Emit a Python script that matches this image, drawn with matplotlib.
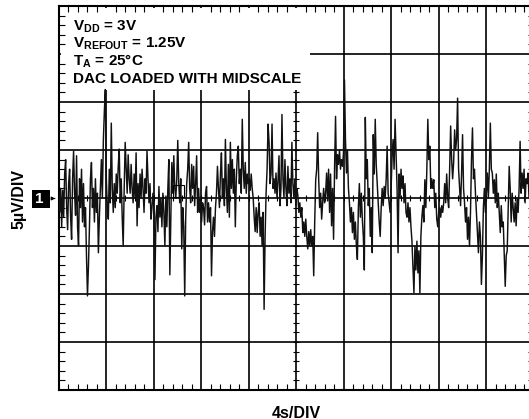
import numpy as np
import matplotlib
matplotlib.use("Agg")
import matplotlib.pyplot as plt
from matplotlib.patches import Rectangle, FancyArrowPatch

plt.rcParams['font.family'] = ['Liberation Sans', 'DejaVu Sans']
plt.rcParams['mathtext.fontset'] = 'custom'
plt.rcParams['mathtext.rm'] = 'Liberation Sans:bold'
plt.rcParams['mathtext.bf'] = 'Liberation Sans:bold'

# ---- data (µV), 5 µV/div, 4 s/div ----
seg1 = [0.5, -1.5, 1.0, -3.0, 0.8, -2.0, 2.5, 4.0, -1.0, -3.3,
        1.5, 3.0, -2.0, -4.3, 2.0, 4.9, 0.5, -1.8, 4.4, -3.0,
        -5.0, 2.0, -1.0, 3.0, -2.5, 1.5, -3.0, -1.0, -6.0, -10.2,
        -7.0, -3.0, 2.0, 3.7, -1.0, 1.0, -2.5, 2.0, -1.5, 0.5,
        -5.7, -2.0, 1.0, 4.0, 0.0, 6.0, 9.0, 11.3, 2.0, -1.0,
        -2.2, 3.0, -0.5, 7.8, 1.0, -1.5, 1.5, -1.0, 2.5, 0.5,
        3.3, 5.1, -0.5, 2.0, -2.0, -5.0, 1.0, 5.8, 3.0, 0.5,
        4.5, 2.0, 0.5, 3.5, 1.0, -0.5, 2.5, 0.0, 4.7, -2.9,
        1.5, -1.0, 2.5, 0.0, 3.0, 1.0, -1.5, 2.0, 0.5, 4.9,
        2.0, -0.5, 1.5, -2.2, -1.0, 0.5]
seg2 = [-1.0, -8.5, -2.0, -0.8, -3.5, 1.2, -2.0, 0.0, -3.0, 0.5,
        -1.5, -5.0, 0.2, -3.0, 1.0, 4.0, -8.0, -2.0, 3.7, 0.5,
        4.4, 1.0, 0.0, 2.0, 6.0, 1.5, -0.5, 2.0, -5.3, -1.0,
        -3.0, -10.2, -2.0, 1.5, 3.0, 5.8, 1.0, -0.5, 3.5, 1.0,
        3.3, -0.8, 1.5, 4.4, -1.5, 1.0, -1.5, 0.0, -2.5, -0.5,
        -1.0, -2.8, 0.5, 1.2, -2.5, -0.5, -2.5, -1.0, -8.1, -3.5,
        -2.0, -4.0, -1.0, 0.5, 3.3, 1.0, -1.0, 2.5, 4.7, 0.0,
        2.0, -0.8, 6.1, 1.0, -1.5, 3.5, -2.0, 5.8, 1.0, 4.0,
        0.5, 3.0, -3.0, 2.0, 4.4, 5.4, 1.5, 3.0, 0.5, 8.2,
        3.0, 1.0, 3.7, 0.5, 2.5, 1.5]
seg3 = [2.0, 0.8, 2.5, 1.0, 0.0, -2.0, -3.5, -1.0, -3.6, -1.5,
        -0.5, -4.0, -2.0, -5.0, -1.5, -11.6, -4.0, 0.5, 3.0, 7.7,
        5.8, 1.5, 2.5, 7.7, 1.0, 2.0, 0.5, 2.6, 0.0, 1.8,
        4.4, -0.8, 1.0, 8.7, 2.0, 0.0, 4.0, 1.0, -0.8, 3.3,
        0.5, 2.0, -0.5, 5.8, 1.5, 0.0, 2.0, -0.8, 1.0, 0.3,
        -1.5, -0.5, -2.0, -1.0, -3.6, -2.5, -4.0, -2.2, -4.0, -5.3,
        -3.5, -5.0, -3.3, -5.0, -4.0, -8.1, -2.5, 1.9, 3.0, 6.8,
        2.0, -1.0, 0.5, -2.2, -0.5, 1.0, -0.5, 0.5, 2.6, -0.3,
        3.0, -1.5, 2.5, -2.9, 1.0, -4.3, 3.0, 8.5, 2.0, 4.5,
        3.5, 5.0, 3.0, 4.0, 3.3, 4.7]
seg4 = [12.3, 6.1, 2.6, 5.0, 1.0, -0.5, -2.5, -1.0, -3.6, -1.5,
        -4.3, -2.5, -5.0, -6.4, -1.0, 1.5, -2.0, 0.5, -2.2, -4.0,
        -7.5, 8.4, 2.0, 4.0, -0.8, 1.0, -4.0, -1.0, -5.7, 6.6,
        2.5, 8.2, 3.5, 1.5, -0.5, -2.5, -4.0, -1.0, 1.0, -0.8,
        1.2, 0.0, 1.9, 5.4, 0.5, -0.5, -1.5, 1.0, 4.4, 6.1,
        3.0, 8.2, 4.7, 1.0, -5.7, 2.5, 0.0, 3.0, 1.0, 2.3,
        -0.5, 1.5, -1.5, -2.0, -0.5, -2.5, -1.0, -3.0, -4.5, -7.1,
        -9.9, -5.0, -7.5, -4.5, -7.8, -5.5, -9.9, -4.0, -2.0, -0.8,
        -2.5, 1.9, -1.0, 3.0, 8.2, 4.0, 5.4, 1.0, 2.0, 1.0,
        1.9, -1.0, 0.5, -2.2, -3.0, -1.5]
seg5 = [-1.0, -2.0, -0.8, -1.5, -0.5, 1.5, -0.5, 2.5, 0.0, -1.0,
        3.0, 7.5, 4.0, 2.0, 3.7, 7.1, 5.0, 6.1, 10.4, 3.0,
        1.0, -0.8, 2.5, 6.6, 1.0, -0.5, -2.5, -1.0, -4.3, -2.0,
        -5.0, -1.5, 4.0, 7.3, 2.0, 3.0, 0.5, -1.5, -3.5, -5.7,
        -2.5, -4.0, -9.0, -6.0, -1.0, 1.0, -1.5, 0.5, 2.6, 0.0,
        3.0, 7.8, 3.0, 2.6, 0.5, 1.9, -0.5, 2.5, -1.0, 0.5,
        -1.5, -3.6, -0.8, -3.0, -2.5, -5.7, -9.2, -6.0, -5.5, -1.0,
        3.3, 1.0, -2.5, 0.5, -1.0, -2.5, -0.5, -2.9, 0.0, -1.5,
        1.0, 5.9, 0.5, 2.6, 1.0, 3.0, -0.5, 2.0, 1.5, 2.6,
        0.0, 1.5, -0.5, 2.0, 0.5, 1.0]

noise_uv = np.array(seg1 + seg2 + seg3 + seg4 + seg5)
time_s = np.linspace(0, 40, len(noise_uv))

annotations = ["V$_{\\mathrm{DD}}$ = 3V",
               "V$_{\\mathrm{REFOUT}}$ = 1.25V",
               "T$_{\\mathrm{A}}$ = 25°C",
               "DAC LOADED WITH MIDSCALE"]

W, H = 529, 419
fig = plt.figure(figsize=(W / 100, H / 100), dpi=100)
x0, x1, y0, y1 = 58.7, 534.0, 6.0, 390.0
ax = fig.add_axes([x0 / W, 1 - y1 / H, (x1 - x0) / W, (y1 - y0) / H])
ax.set_xlim(0, 40)
ax.set_ylim(-20, 20)

# grid
for xv in np.arange(4, 40, 4):
    ax.axvline(xv, color='black', lw=1.2, zorder=1)
for yv in np.arange(-15, 20, 5):
    ax.axhline(yv, color='black', lw=1.2, zorder=1)

# centre-line minor ticks
yt = np.arange(-20, 20.01, 1.0)
ax.plot(np.full_like(yt, 20.0), yt, ls='none', marker='_', ms=5, mew=0.8,
        color='black', zorder=1)
xt = np.arange(0, 40.01, 0.8)
ax.plot(xt, np.zeros_like(xt), ls='none', marker='|', ms=5, mew=0.8,
        color='black', zorder=1)

# white label area
ax.add_patch(Rectangle((0.004, (390 - 90) / 384), (310 - x0) / (x1 - x0) - 0.004,
                       1 - (390 - 90) / 384 - 0.004, transform=ax.transAxes,
                       facecolor='white', edgecolor='none', zorder=1.5))

# trace
ax.plot(time_s, noise_uv, color='#111111', lw=1.05, zorder=3)

# trigger-position box
ax.add_patch(Rectangle(((173 - x0) / (x1 - x0), (390 - 197) / 384),
                       11 / (x1 - x0), 12 / 384, transform=ax.transAxes,
                       facecolor='none', edgecolor='black', lw=0.8, zorder=3))

ax.set_xticks(np.arange(0, 41, 4))
ax.set_xticks(np.arange(0, 40.01, 0.8), minor=True)
ax.set_yticks(np.arange(-20, 21, 5))
ax.set_yticks(np.arange(-20, 20.01, 1.0), minor=True)
ax.tick_params(which='both', direction='in', top=True, right=True,
               labelbottom=False, labelleft=False)
ax.tick_params(which='major', length=0)
ax.tick_params(which='minor', length=4, width=0.8, color='black')
for s in ax.spines.values():
    s.set_linewidth(1.5)

# annotation text
base_y = [30.0, 47.7, 65.7, 83.3]
for txt, by in zip(annotations, base_y):
    fig.text(72.7 / W, 1 - by / H, txt, fontsize=11, fontweight='bold',
             va='baseline', ha='left', zorder=5)

# axis labels
fig.text(19 / W, 1 - 199 / H, "5µV/DIV", rotation=90, fontsize=11.5,
         fontweight='bold', ha='center', va='center')
fig.text(296.7 / W, 1 - 413 / H, "4s/DIV", fontsize=11.5, fontweight='bold',
         ha='center', va='center')

# channel marker "1 →"
fig.patches.append(Rectangle((32 / W, 1 - 208 / H), 18 / W, 18 / H,
                             transform=fig.transFigure, facecolor='black',
                             edgecolor='none'))
fig.text(39.5 / W, 1 - 199 / H, "1", color='white', fontsize=11,
         fontweight='bold', ha='center', va='center', zorder=6)
arrow = FancyArrowPatch((51.5 / W, 1 - 198.5 / H), (58.0 / W, 1 - 198.5 / H),
                        transform=fig.transFigure, arrowstyle='-|>',
                        mutation_scale=5, lw=0.8, color='black', zorder=6)
fig.patches.append(arrow)

fig.savefig('out.png', dpi=100)
